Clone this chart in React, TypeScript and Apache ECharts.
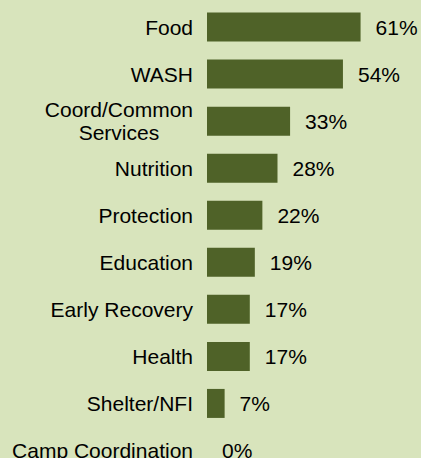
import React, { useEffect, useRef } from "react";
import * as echarts from "echarts";

const categories = [
  "Food",
  "WASH",
  "Coord/Common Services",
  "Nutrition",
  "Protection",
  "Education",
  "Early Recovery",
  "Health",
  "Shelter/NFI",
  "Camp Coordination",
];
const values = [61, 54, 33, 28, 22, 19, 17, 17, 7, 0];

const FONT = "'Liberation Sans', Arial, sans-serif";

export default function App() {
  const ref = useRef<HTMLDivElement>(null);
  useEffect(() => {
    if (!ref.current) return;
    const chart = echarts.init(ref.current, null, { renderer: "svg" });
    chart.setOption({
      animation: false,
      backgroundColor: "#d8e4bc",
      grid: { left: 207, right: 0, top: 3.5, bottom: 0, containLabel: false },
      xAxis: {
        type: "value",
        min: 0,
        max: 85,
        show: false,
      },
      yAxis: {
        type: "category",
        data: categories,
        inverse: true,
        axisLine: { show: false },
        axisTick: { show: false },
        splitLine: { show: false },
        axisLabel: {
          interval: 0,
          margin: 14,
          fontSize: 21,
          color: "#000",
          fontFamily: FONT,
          formatter: (v: string) =>
            v === "Coord/Common Services" ? "{c|Coord/Common}\n{c|Services}" : v,
          rich: {
            c: {
              align: "center",
              fontSize: 21,
              lineHeight: 22.5,
              color: "#000",
              fontFamily: FONT,
            },
          },
        },
      },
      series: [
        {
          type: "bar",
          data: values,
          barWidth: 29,
          itemStyle: { color: "#4f6228" },
          label: {
            show: true,
            position: "right",
            distance: 15,
            fontSize: 21,
            color: "#000",
            fontFamily: FONT,
            formatter: "{c}%",
          },
        },
      ],
    });
    return () => chart.dispose();
  }, []);
  return (
    <div
      ref={ref}
      style={{ position: "fixed", left: 0, top: 0, width: 421, height: 474 }}
    />
  );
}
